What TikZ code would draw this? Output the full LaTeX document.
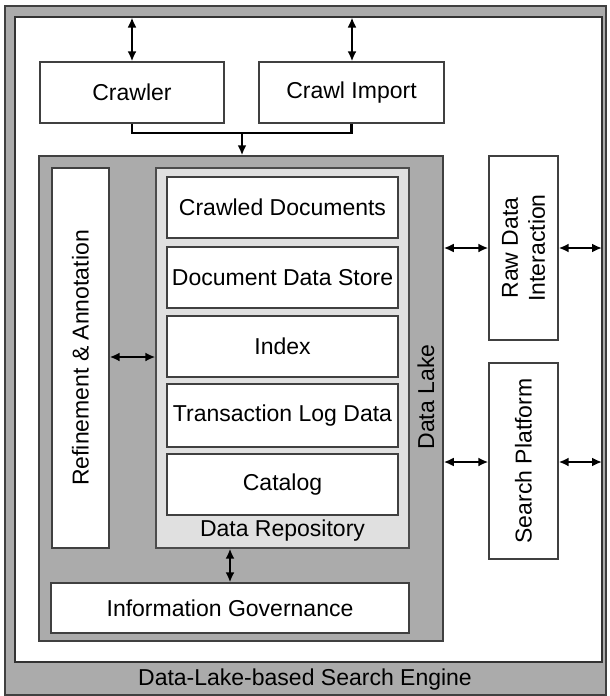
\documentclass[tikz,border=0pt]{standalone}
\usepackage{fontspec}
\setmainfont{Liberation Sans}
\usetikzlibrary{arrows.meta}
\begin{document}
\begin{tikzpicture}[x=1pt,y=-1pt,
  box/.style={draw=black!75,line width=1.3pt,fill=white,inner sep=0pt,font=\fontsize{23}{27}\selectfont},
  lbl/.style={inner sep=0pt,font=\fontsize{23}{27}\selectfont},
  arr/.style={line width=2.6pt,{Latex[length=10pt,width=9pt]}-{Latex[length=10pt,width=9pt]}},
  sarr/.style={line width=2.6pt,-{Latex[length=10pt,width=9pt]}},
  ln/.style={line width=2.6pt}]
\useasboundingbox (0,0) rectangle (610,696);
\fill[white] (0,0) rectangle (610,696);
% outer frame
\node[draw=black!75,line width=1.5pt,fill=black!33,minimum width=601pt,minimum height=689pt,inner sep=0pt] (outer) at (305.5,350.5) {};
\node[draw=black!80,line width=1.5pt,fill=white,minimum width=587pt,minimum height=645pt,inner sep=0pt] (white) at (308.5,339.5) {};
\node[lbl] (title) at (305,680) {Data-Lake-based Search Engine};
% top boxes
\node[box,minimum width=184pt,minimum height=61pt] (crawler) at (132,92.5) {Crawler};
\node[box,minimum width=185pt,minimum height=61pt] (import) at (351.5,92.5) {Crawl Import};
% data lake
\node[draw=black!75,line width=1.5pt,fill=black!33,minimum width=404pt,minimum height=485pt,inner sep=0pt] (lake) at (241,398.5) {};
\node[lbl,rotate=90] (lakelbl) at (426,397) {Data Lake};
\node[box,minimum width=57pt,minimum height=380pt] (refine) at (80.5,358) {};
\node[lbl,rotate=90] (refinelbl) at (refine.center) {Refinement \& Annotation};
\node[draw=black!70,line width=1.3pt,fill=black!12,minimum width=253pt,minimum height=380pt,inner sep=0pt] (repo) at (282.5,358) {};
\node[box,minimum width=231pt,minimum height=61pt] (cd) at (282.5,207.5) {Crawled Documents};
\node[box,minimum width=231pt,minimum height=61pt] (dds) at (282.5,277.5) {Document Data Store};
\node[box,minimum width=231pt,minimum height=61pt] (idx) at (282.5,346.5) {Index};
\node[box,minimum width=231pt,minimum height=63pt] (tld) at (282.5,415.5) {Transaction Log Data};
\node[box,minimum width=231pt,minimum height=61pt] (cat) at (282.5,484.5) {Catalog};
\node[lbl] (repolbl) at (282.5,531) {Data Repository};
\node[box,minimum width=358pt,minimum height=50pt] (ig) at (230,608) {Information Governance};
% right boxes
\node[box,minimum width=69pt,minimum height=184pt] (raw) at (523.5,248) {};
\node[lbl,rotate=90,align=center] (rawlbl) at (raw.center) {Raw Data\\Interaction};
\node[box,minimum width=69pt,minimum height=196pt] (search) at (523.5,461) {};
\node[lbl,rotate=90] (searchlbl) at (search.center) {Search Platform};
% coordinates
\coordinate (ctop) at (132,17.5);
\coordinate (itop) at (352,17.5);
\coordinate (bar) at (242,133);
\coordinate (rawr) at (602,248);
\coordinate (searchr) at (602,462);
% connectors
\draw[arr] (ctop) -- (crawler.north -| ctop);
\draw[arr] (itop) -- (import.north -| itop);
\draw[ln] (crawler.south) |- (bar) -| (import.south);
\draw[sarr] (bar) -- (bar |- lake.north);
\draw[arr] (refine.east |- 0,357) -- (repo.west |- 0,357);
\draw[arr] (repo.south -| 230,0) -- (ig.north -| 230,0);
\draw[arr] (lake.east |- raw.west) -- (raw.west);
\draw[arr] (raw.east) -- (rawr);
\draw[arr] (lake.east |- 0,462) -- (search.west |- 0,462);
\draw[arr] (search.east |- 0,462) -- (searchr);
\end{tikzpicture}
\end{document}
